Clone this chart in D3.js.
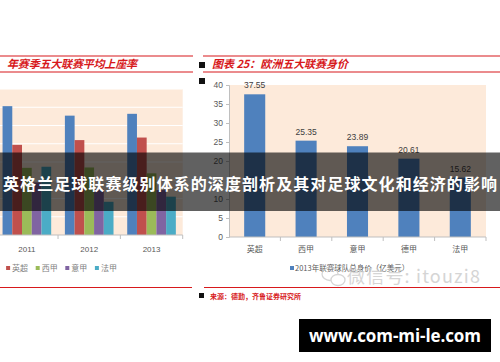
<!DOCTYPE html>
<html>
<head>
<meta charset="utf-8">
<script src="https://cdn.jsdelivr.net/npm/d3@7"></script>
<style>
  body { margin: 0; background: #fff; }
  svg { display: block; font-family: "Noto Sans CJK SC", "Noto Sans", sans-serif; }
</style>
</head>
<body>
<svg width="500" height="362"></svg>
<script>
// Left chart: average attendance per season (first league is cropped off)
const years = ["2011", "2012", "2013"];
const attLeagues = ["德甲", "英超", "西甲", "意甲", "法甲"];
const attDeJia = [35.3, 32.7, 33.2];
const attYingChao = [24.7, 26.0, 26.7];
const attXiJia = [18.4, 18.5, 16.9];
const attYiJia = [14.4, 12.5, 12.3];
const attFaJia = [18.7, 9.1, 10.5];
const attSeries = [attDeJia, attYingChao, attXiJia, attYiJia, attFaJia];

// Right chart: league value 2013
const valLeagues = ["英超", "西甲", "意甲", "德甲", "法甲"];
const valValues = [37.55, 25.35, 23.89, 20.61, 15.62];
const valTicks = [0, 5, 10, 15, 20, 25, 30, 35, 40];

const colors = ["#4F81BD", "#C0504D", "#9BBB59", "#8064A2", "#4BACC6"];
const red = "#D7191C";

const svg = d3.select("svg");
svg.append("rect").attr("width", 500).attr("height", 362).attr("fill", "#fff");

// ---------- header bars ----------
function header(x1, x2) {
  [56, 72].forEach(y => {
    svg.append("line").attr("x1", x1).attr("x2", x2).attr("y1", y).attr("y2", y)
      .attr("stroke", red).attr("stroke-width", 1.2);
  });
}
header(0, 193);
header(203, 500);

svg.append("text").attr("x", 7).attr("y", 68)
  .attr("fill", red).attr("font-size", 11).attr("font-weight", 700)
  .attr("font-style", "italic")
  .attr("textLength", 130)
  .text("年赛季五大联赛平均上座率");

svg.append("rect").attr("x", 199).attr("y", 62).attr("width", 6).attr("height", 6).attr("fill", "#111");
svg.append("rect").attr("x", 199).attr("y", 78).attr("width", 6).attr("height", 6).attr("fill", "#111");
svg.append("text").attr("x", 212).attr("y", 68)
  .attr("fill", red).attr("font-size", 11).attr("font-weight", 700)
  .attr("font-style", "italic")
  .attr("textLength", 136)
  .text("图表 25：欧洲五大联赛身价");

// ---------- left chart ----------
const x0 = d3.scaleBand().domain(years).range([-4.3, 182.7]).paddingInner(0.22).paddingOuter(0.11);
const x1 = d3.scaleBand().domain(d3.range(attSeries.length)).range([0, x0.bandwidth()]);
const yL = d3.scaleLinear().domain([0, 40]).range([235, 89]);

svg.append("rect").attr("x", 0).attr("y", yL(40)).attr("width", 182.7)
  .attr("height", yL(0) - yL(40)).attr("fill", "#FDEADA");
svg.append("g").selectAll("line").data(d3.range(5, 41, 5)).join("line")
  .attr("x1", 0).attr("x2", 182.7)
  .attr("y1", d => yL(d)).attr("y2", d => yL(d))
  .attr("stroke", "#fff").attr("stroke-width", 1);

const gL = svg.append("g");
years.forEach((yr, i) => {
  gL.append("g").attr("transform", `translate(${x0(yr)},0)`)
    .selectAll("rect").data(attSeries.map((s, k) => ({ k, v: s[i] }))).join("rect")
    .attr("x", d => x1(d.k)).attr("width", x1.bandwidth())
    .attr("y", d => yL(d.v)).attr("height", d => yL(0) - yL(d.v))
    .attr("fill", d => colors[d.k]);
});

svg.append("line").attr("x1", 0).attr("x2", 182.7).attr("y1", 235).attr("y2", 235)
  .attr("stroke", "#bfbfbf");
svg.append("g").selectAll("line").data(years).join("line")
  .attr("x1", d => x0(d) + x0.bandwidth() + x0.step() * 0.11)
  .attr("x2", d => x0(d) + x0.bandwidth() + x0.step() * 0.11)
  .attr("y1", 235).attr("y2", 239).attr("stroke", "#bfbfbf");
svg.append("g").selectAll("text").data(years).join("text")
  .attr("x", d => x0(d) + x0.bandwidth() / 2).attr("y", 252)
  .attr("text-anchor", "middle").attr("font-size", 8).attr("fill", "#595959")
  .attr("font-family", "Liberation Sans, sans-serif")
  .text(d => d);

// legend: the first entry (德甲) lies outside the cropped picture
const legL = svg.append("g").attr("transform", "translate(-23.5,268)");
attLeagues.forEach((name, k) => {
  if (k === 0) return;
  const g = legL.append("g").attr("transform", `translate(${k * 29.6},0)`);
  g.append("rect").attr("x", 0).attr("y", -2).attr("width", 4).attr("height", 4).attr("fill", colors[k]);
  g.append("text").attr("x", 6).attr("y", 3).attr("font-size", 8).attr("fill", "#7f7f7f").text(name);
});

// ---------- right chart ----------
const xR = d3.scaleBand().domain(valLeagues).range([229, 486]).paddingInner(0.59).paddingOuter(0.295);
const yR = d3.scaleLinear().domain([0, 40]).range([237, 85]);

svg.append("rect").attr("x", 229).attr("y", yR(40)).attr("width", 486 - 229)
  .attr("height", yR(0) - yR(40)).attr("fill", "#FDEADA");

svg.append("g").selectAll("rect").data(valValues).join("rect")
  .attr("x", (d, i) => xR(valLeagues[i])).attr("width", xR.bandwidth())
  .attr("y", d => yR(d)).attr("height", d => yR(0) - yR(d))
  .attr("fill", colors[0]);

svg.append("g").selectAll("text").data(valValues).join("text")
  .attr("x", (d, i) => xR(valLeagues[i]) + xR.bandwidth() / 2)
  .attr("y", d => yR(d) - 6)
  .attr("text-anchor", "middle").attr("font-size", 8.5).attr("fill", "#404040")
  .attr("font-family", "Liberation Sans, sans-serif")
  .text(d => d.toFixed(2));

const yAxisR = svg.append("g").attr("transform", "translate(229,0)")
  .call(d3.axisLeft(yR).tickValues(valTicks).tickSize(3).tickPadding(3));
yAxisR.select(".domain").attr("stroke", "#bfbfbf");
yAxisR.selectAll(".tick line").attr("stroke", "#bfbfbf");
yAxisR.selectAll(".tick text").attr("fill", "#595959").attr("font-size", 8.5)
  .attr("font-family", "Liberation Sans, sans-serif");

svg.append("line").attr("x1", 229).attr("x2", 486).attr("y1", 237).attr("y2", 237).attr("stroke", "#bfbfbf");
svg.append("g").selectAll("line").data(valLeagues).join("line")
  .attr("x1", d => xR(d) + xR.bandwidth() + xR.step() * 0.295)
  .attr("x2", d => xR(d) + xR.bandwidth() + xR.step() * 0.295)
  .attr("y1", 237).attr("y2", 241).attr("stroke", "#bfbfbf");
svg.append("g").selectAll("text").data(valLeagues).join("text")
  .attr("x", d => xR(d) + xR.bandwidth() / 2).attr("y", 252)
  .attr("text-anchor", "middle").attr("font-size", 8).attr("fill", "#595959")
  .text(d => d);

svg.append("rect").attr("x", 290).attr("y", 266).attr("width", 4).attr("height", 4).attr("fill", colors[0]);
svg.append("text").attr("x", 295).attr("y", 271).attr("font-size", 7.5).attr("fill", "#595959")
  .text("2013年联赛球队总身价（亿美元）");

// watermark
const wm = svg.append("g").attr("opacity", 0.75);
wm.append("ellipse").attr("cx", 330).attr("cy", 274).attr("rx", 8).attr("ry", 6.5)
  .attr("fill", "none").attr("stroke", "#c8c8c8").attr("stroke-width", 1.3);
wm.append("ellipse").attr("cx", 338).attr("cy", 280).attr("rx", 7).attr("ry", 5.5)
  .attr("fill", "#fff").attr("stroke", "#c8c8c8").attr("stroke-width", 1.3);
wm.append("text").attr("x", 347).attr("y", 283).attr("font-size", 18).attr("fill", "#c8c8c8")
  .attr("textLength", 133)
  .text("微信号: itouzi8");

// footer
svg.append("line").attr("x1", 0).attr("x2", 192).attr("y1", 287.5).attr("y2", 287.5).attr("stroke", red).attr("stroke-width", 1.2);
svg.append("line").attr("x1", 204).attr("x2", 500).attr("y1", 287.5).attr("y2", 287.5).attr("stroke", red).attr("stroke-width", 1.2);
svg.append("rect").attr("x", 199).attr("y", 293).attr("width", 5).attr("height", 5).attr("fill", "#111");
svg.append("text").attr("x", 210).attr("y", 299).attr("font-size", 7).attr("font-weight", 700)
  .attr("fill", red).text("来源：德勤，齐鲁证券研究所");

// overlay banner
svg.append("rect").attr("x", 0).attr("y", 152.5).attr("width", 500).attr("height", 58.5)
  .attr("fill", "#000").attr("opacity", 0.62);
svg.append("text").attr("x", 250).attr("y", 189.5).attr("text-anchor", "middle")
  .attr("font-size", 16).attr("font-weight", 700).attr("fill", "#fff")
  .attr("textLength", 494)
  .text("英格兰足球联赛级别体系的深度剖析及其对足球文化和经济的影响");

// url box
svg.append("rect").attr("x", 299).attr("y", 319).attr("width", 192).attr("height", 33).attr("fill", "#000");
svg.append("text").attr("x", 395).attr("y", 341.5).attr("text-anchor", "middle")
  .attr("font-size", 17).attr("font-weight", 700).attr("fill", "#fff")
  .attr("font-family", "Open Sans, DejaVu Sans, sans-serif")
  .attr("textLength", 172)
  .text("www.com-mi-le.com");
</script>
</body>
</html>
